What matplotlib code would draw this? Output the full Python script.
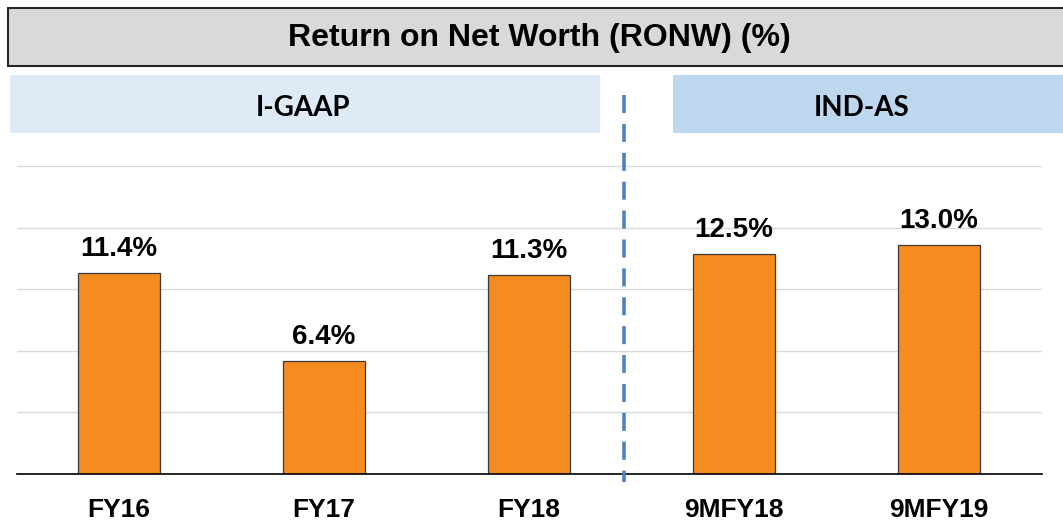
import matplotlib
matplotlib.use("Agg")
import matplotlib.pyplot as plt
from matplotlib.patches import Rectangle
from matplotlib.lines import Line2D

# 数据
categories = ["FY16", "FY17", "FY18", "9MFY18", "9MFY19"]
ronw = [11.4, 6.4, 11.3, 12.5, 13.0]
value_labels = ["11.4%", "6.4%", "11.3%", "12.5%", "13.0%"]
title = "Return on Net Worth (RONW) (%)"
group_labels = ["I-GAAP", "IND-AS"]

W, H = 1063, 527
BAR_COLOR = "#F68B1F"


def fx(px):
    return px / W


def fy(py):
    return 1 - py / H


fig = plt.figure(figsize=(W / 100, H / 100), dpi=100)
fig.patch.set_facecolor("white")

# 坐标区：基线 y=474，0..17.5 对应 474..166
px_per_unit = (474 - 166) / 17.5
ymax = 18.0
ax_top = 474 - ymax * px_per_unit
ax = fig.add_axes([fx(16.5), fy(474), fx(1041.5 - 16.5), (474 - ax_top) / H])

x = list(range(len(categories)))
ax.bar(x, ronw, width=0.4, color=BAR_COLOR, edgecolor="#3a3a3a", linewidth=0.9, zorder=3)
ax.set_xlim(-0.5, len(categories) - 0.5)
ax.set_ylim(0, ymax)
ax.set_yticks([3.5 * i for i in range(6)])
ax.yaxis.grid(True, color="#d9d9d9", linewidth=1.0, zorder=0)
ax.tick_params(axis="y", left=False, labelleft=False)
ax.tick_params(axis="x", bottom=False, pad=14)
ax.set_xticks(x)
ax.set_xticklabels(categories, fontsize=19, fontweight="bold", family="Liberation Sans")
for s in ["top", "right", "left"]:
    ax.spines[s].set_visible(False)
ax.spines["bottom"].set_color("black")
ax.spines["bottom"].set_linewidth(1.2)
ax.spines["bottom"].set_zorder(4)

for xi, v, lab in zip(x, ronw, value_labels):
    ax.annotate(lab, (xi, v), xytext=(0, 8), textcoords="offset points",
                ha="center", va="bottom", fontsize=20, fontweight="bold",
                family="Liberation Sans")

# 标题框
fig.patches.append(Rectangle((fx(8), fy(66)), fx(1070 - 8), (66 - 8) / H,
                             transform=fig.transFigure, facecolor="#d9d9d9",
                             edgecolor="#262626", linewidth=1.5))
fig.text(fx(539), fy(38), title, ha="center", va="center", fontsize=23,
         fontweight="bold", family="Liberation Sans")

# 分组标题
fig.patches.append(Rectangle((fx(10), fy(133)), fx(600 - 10), (133 - 75) / H,
                             transform=fig.transFigure, facecolor="#deeaf6",
                             edgecolor="none"))
fig.patches.append(Rectangle((fx(673), fy(133)), fx(1070 - 673), (133 - 75) / H,
                             transform=fig.transFigure, facecolor="#bdd7ee",
                             edgecolor="none"))
fig.text(fx(303), fy(105), group_labels[0], ha="center", va="center_baseline", fontsize=20,
         fontweight="bold", family="Lato")
fig.text(fx(862), fy(105), group_labels[1], ha="center", va="center_baseline", fontsize=20,
         fontweight="bold", family="Lato")

# 分隔虚线
fig.lines.append(Line2D([fx(624), fx(624)], [fy(95), fy(482)], transform=fig.transFigure,
                        color="#4f81bd", linewidth=2.6, linestyle=(0, (5, 3))))

fig.savefig("out.png", dpi=100)
